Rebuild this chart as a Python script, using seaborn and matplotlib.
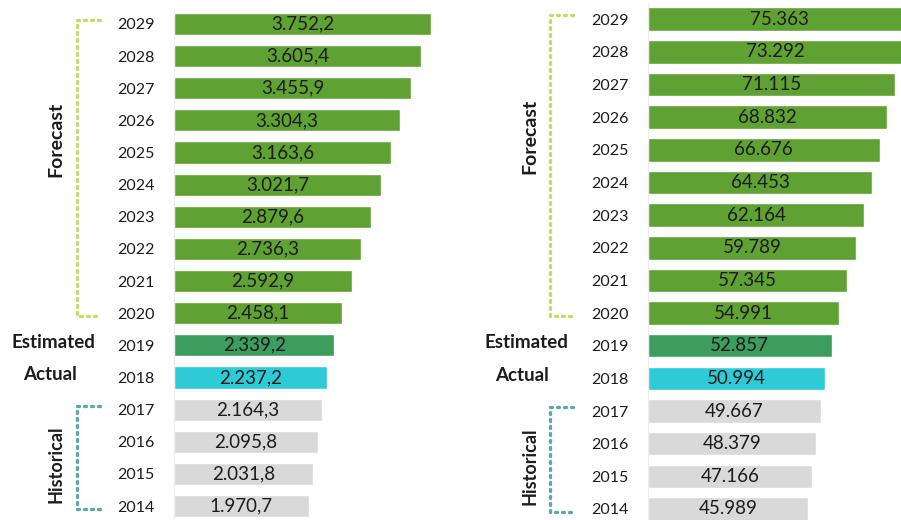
import matplotlib
matplotlib.use("Agg")
import matplotlib.pyplot as plt
import matplotlib.transforms as mtransforms
import numpy as np
import pandas as pd
import seaborn as sns

# ---- data -------------------------------------------------------------
years = [2029, 2028, 2027, 2026, 2025, 2024, 2023, 2022, 2021, 2020,
         2019, 2018, 2017, 2016, 2015, 2014]
left_values = [3752.2, 3605.4, 3455.9, 3304.3, 3163.6, 3021.7, 2879.6, 2736.3,
               2592.9, 2458.1, 2339.2, 2237.2, 2164.3, 2095.8, 2031.8, 1970.7]
right_values = [75363, 73292, 71115, 68832, 66676, 64453, 62164, 59789,
                57345, 54991, 52857, 50994, 49667, 48379, 47166, 45989]
phase = ["Forecast"] * 10 + ["Estimated", "Actual"] + ["Historical"] * 4

left_labels = ["3.752,2", "3.605,4", "3.455,9", "3.304,3", "3.163,6", "3.021,7",
               "2.879,6", "2.736,3", "2.592,9", "2.458,1", "2.339,2", "2.237,2",
               "2.164,3", "2.095,8", "2.031,8", "1.970,7"]
right_labels = ["75.363", "73.292", "71.115", "68.832", "66.676", "64.453",
                "62.164", "59.789", "57.345", "54.991", "52.857", "50.994",
                "49.667", "48.379", "47.166", "45.989"]

phase_colors = {
    "Forecast": "#5fa133",
    "Estimated": "#3c9d5e",
    "Actual": "#2ecbd6",
    "Historical": "#d9d9d9",
}
bracket_colors = {"Forecast": "#c5da6c", "Historical": "#5ea8a2"}

# ---- style ------------------------------------------------------------
sns.set_theme(style="white")
plt.rcParams["font.family"] = ["Lato", "DejaVu Sans"]
TEXT = "#1c1c1c"

W, H = 901, 520
fig = plt.figure(figsize=(W / 100, H / 100), dpi=100)


def px_box(left, top, width, bottom):
    """Axes rectangle in figure fractions from pixel edges."""
    return [left / W, (H - bottom) / H, width / W, (bottom - top) / H]


def draw_panel(ax, values, labels, bar_height, xmax, fig_x):
    df = pd.DataFrame({
        "year": [str(y) for y in years],
        "value": values,
        "phase": phase,
    })
    order = [str(y) for y in years]
    palette = {str(y): phase_colors[p] for y, p in zip(years, phase)}
    sns.barplot(data=df, y="year", x="value", hue="year", order=order,
                hue_order=order, palette=palette, dodge=False, legend=False,
                width=bar_height, saturation=1, ax=ax)
    ax.set_xlim(0, xmax)
    ax.set_ylim(len(years) - 0.5, -0.5)
    ax.set_xlabel("")
    ax.set_ylabel("")
    ax.set_xticks([])
    for side in ("top", "right", "bottom"):
        ax.spines[side].set_visible(False)
    ax.spines["left"].set_color("#efe9f1")
    ax.spines["left"].set_linewidth(0.8)
    ax.tick_params(axis="y", which="major", length=0, pad=14,
                   labelsize=11.5, labelcolor=TEXT)
    ax.set_yticks(np.arange(len(years) - 1) + 0.5, minor=True)
    ax.tick_params(axis="y", which="minor", length=4, width=0.8,
                   color="#e2c3e2", direction="out")

    # value labels centred in each bar
    for i, (v, lab) in enumerate(zip(values, labels)):
        ax.text(v / 2, i, lab, ha="center", va="center",
                fontsize=13.5, color=TEXT)

    # group brackets and phase labels (x in figure px, y in data)
    trans = mtransforms.blended_transform_factory(fig.transFigure, ax.transData)
    bx0 = fig_x["bracket"] / W
    bx1 = (fig_x["bracket"] + 23) / W
    for name in ("Forecast", "Historical"):
        idx = [i for i, p in enumerate(phase) if p == name]
        top, bot = min(idx) - 0.12, max(idx) + 0.1
        ax.plot([bx1, bx0, bx0, bx1], [top, top, bot, bot], transform=trans,
                color=bracket_colors[name], lw=2.4, ls=(0, (0.6, 1.5)),
                solid_capstyle="butt", dash_capstyle="round", clip_on=False)
    h_idx = [i for i, p in enumerate(phase) if p == "Historical"]
    ax.text(fig_x["group"] / W, 3.6, "Forecast", transform=trans,
            rotation=90, ha="center", va="center", fontsize=14,
            fontweight="bold", color=TEXT)
    ax.text(fig_x["group"] / W, (min(h_idx) + max(h_idx)) / 2 + 0.2,
            "Historical", transform=trans, rotation=90, ha="center",
            va="center", fontsize=13, fontweight="bold", color=TEXT)
    ax.text(fig_x["est"] / W, phase.index("Estimated") - 0.1, "Estimated",
            transform=trans, ha="center", va="center", fontsize=13.5,
            fontweight="bold", color=TEXT)
    ax.text(fig_x["act"] / W, phase.index("Actual") - 0.1, "Actual",
            transform=trans, ha="center", va="center", fontsize=13.5,
            fontweight="bold", color=TEXT)


# left panel: 0..4000 mapped over 274 px starting at x=174
ax_l = fig.add_axes(px_box(174, 7.9, 274, 522.1))
draw_panel(ax_l, left_values, left_labels, 0.69, 4000,
           {"bracket": 77, "group": 56, "est": 53, "act": 50})

# right panel: 0..80000 mapped over 278 px starting at x=648 (runs past edge)
ax_r = fig.add_axes(px_box(648, 2.9, 278, 525.3))
draw_panel(ax_r, right_values, right_labels, 0.72, 80000,
           {"bracket": 550, "group": 530, "est": 526, "act": 522})

fig.savefig("out.png", dpi=100, facecolor="white")
